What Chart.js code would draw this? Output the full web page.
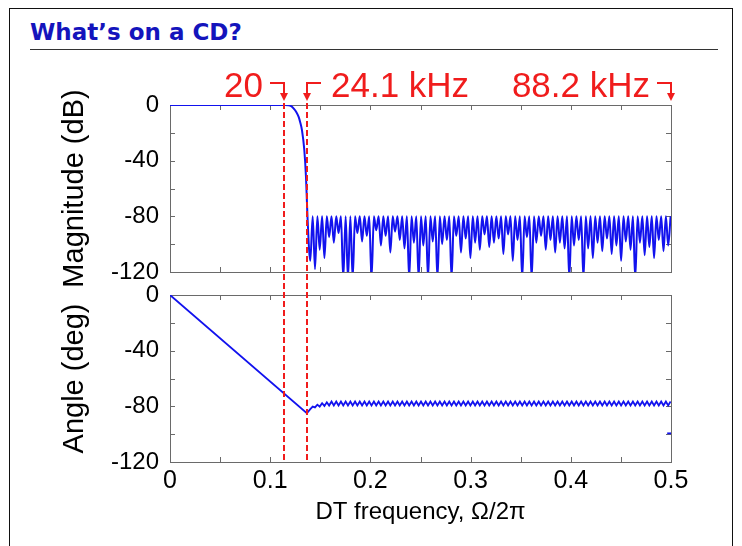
<!DOCTYPE html>
<html>
<head>
<meta charset="utf-8">
<script src="https://cdn.jsdelivr.net/npm/chart.js@4/dist/chart.umd.min.js"></script>
<style>
  html, body { margin: 0; padding: 0; background: #fff; }
  #page { position: relative; width: 742px; height: 546px; overflow: hidden; }
  #frame { position: absolute; left: 9px; top: 8px; width: 724px; height: 600px; border: 1.5px solid #111; box-sizing: border-box; }
  #title { position: absolute; left: 30px; top: 19px; font: bold 23px "DejaVu Sans", sans-serif; color: #1414bc; white-space: nowrap; }
  #rule { position: absolute; left: 30px; top: 49px; width: 688px; border-top: 1.5px solid #333; }
  canvas { position: absolute; left: 0; top: 0; }
</style>
</head>
<body>
<div id="page">
  <div id="frame"></div>
  <div id="title">What’s on a CD?</div>
  <div id="rule"></div>
  <canvas id="mag" width="742" height="546"></canvas>
  <canvas id="phase" width="742" height="546"></canvas>
</div>
<script>
// axes
const xTicks = [0, 0.05, 0.1, 0.15, 0.2, 0.25, 0.3, 0.35, 0.4, 0.45, 0.5];
const xTickLabels = ['0', '', '0.1', '', '0.2', '', '0.3', '', '0.4', '', '0.5'];
const yTicks = [0, -20, -40, -60, -80, -100, -120];
const yTickLabels = ['0', '', '-40', '', '-80', '', '-120'];

// band edges marked on the plot (20 kHz, 24.1 kHz, 88.2 kHz at fs = 176.4 kHz)
const markFreq = [0.1134, 0.1366, 0.5];
const markText = ['20', '24.1 kHz', '88.2 kHz'];
const markSide = ['left', 'right', 'left'];

// magnitude: passband + transition
const passFreq = [0, 0.1150, 0.1183, 0.1210, 0.1233, 0.1260, 0.1283, 0.1300, 0.1317, 0.1340, 0.1357, 0.1367, 0.1372];
const passDb = [0, 0, -0.1, -0.8, -2.4, -5, -8.4, -12.5, -18, -32, -51.5, -70.6, -80];

// magnitude: stopband lobes (nulls and equiripple peaks)
const nullFreq = [
  0.1400, 0.1447, 0.1494, 0.1541, 0.1588, 0.1635, 0.1682, 0.1729, 0.1776, 0.1823,
  0.1870, 0.1917, 0.1964, 0.2011, 0.2058, 0.2105, 0.2152, 0.2199, 0.2246, 0.2293,
  0.2340, 0.2387, 0.2434, 0.2481, 0.2528, 0.2575, 0.2622, 0.2669, 0.2716, 0.2763,
  0.2810, 0.2857, 0.2904, 0.2951, 0.2998, 0.3045, 0.3092, 0.3139, 0.3186, 0.3233,
  0.3280, 0.3327, 0.3374, 0.3421, 0.3468, 0.3515, 0.3562, 0.3609, 0.3656, 0.3703,
  0.3750, 0.3797, 0.3844, 0.3891, 0.3938, 0.3985, 0.4032, 0.4079, 0.4126, 0.4173,
  0.4220, 0.4267, 0.4314, 0.4361, 0.4408, 0.4455, 0.4502, 0.4549, 0.4596, 0.4643,
  0.4690, 0.4737, 0.4784, 0.4831, 0.4878, 0.4925, 0.4972
];
const nullDb = [
  -112, -118, -104, -110, -95, -99, -92, -125, -125, -125,
  -92, -98, -94, -125, -90, -101, -94, -106, -91, -97,
  -103, -125, -99, -125, -101, -125, -98, -125, -100, -97,
  -125, -94, -106, -96, -110, -99, -104, -93, -102, -99,
  -96, -107, -93, -112, -97, -125, -95, -125, -99, -94,
  -104, -97, -106, -99, -103, -125, -101, -97, -125, -103,
  -110, -99, -105, -96, -107, -101, -112, -98, -104, -125,
  -99, -108, -102, -110, -97, -105, -101
];
const peakFreq = [
  0.1424, 0.1471, 0.1518, 0.1565, 0.1612, 0.1659, 0.1706, 0.1753, 0.1800, 0.1847,
  0.1894, 0.1941, 0.1988, 0.2035, 0.2082, 0.2129, 0.2176, 0.2223, 0.2270, 0.2317,
  0.2364, 0.2411, 0.2458, 0.2505, 0.2552, 0.2599, 0.2646, 0.2693, 0.2740, 0.2787,
  0.2834, 0.2881, 0.2928, 0.2975, 0.3022, 0.3069, 0.3116, 0.3163, 0.3210, 0.3257,
  0.3304, 0.3351, 0.3398, 0.3445, 0.3492, 0.3539, 0.3586, 0.3633, 0.3680, 0.3727,
  0.3774, 0.3821, 0.3868, 0.3915, 0.3962, 0.4009, 0.4056, 0.4103, 0.4150, 0.4197,
  0.4244, 0.4291, 0.4338, 0.4385, 0.4432, 0.4479, 0.4526, 0.4573, 0.4620, 0.4667,
  0.4714, 0.4761, 0.4808, 0.4855, 0.4902, 0.4949, 0.4996
];
const peakDb = -80;

// phase
const phaseRampFreq = [0, 0.1366];
const phaseRampDeg = [0, -85];
const phaseSettleNull = [-82, -80.8, -80.2, -79.7];
const phaseSettlePeak = [-80.2, -78.8, -77.8, -77.1];
const phaseLow = -79.4;  // at the stopband nulls
const phaseHigh = -76.5; // at the stopband peaks
const phaseTailFreq = [0.4962, 0.5];
const phaseTailDeg = [-99.4, -99.4];

const BLUE = '#1212ee';
const RED = '#f01c1c';
Chart.defaults.font.family = '"Liberation Sans", Arial, sans-serif';
Chart.defaults.color = '#000';

// build series
let magData = passFreq.map((f, i) => ({ x: f, y: passDb[i] }));
nullFreq.forEach((f, k) => {
    magData.push({ x: f, y: nullDb[k] });
    magData.push({ x: peakFreq[k], y: peakDb });
});

let phaseData = phaseRampFreq.map((f, i) => ({ x: f, y: phaseRampDeg[i] }));
nullFreq.forEach((f, k) => {
    phaseData.push({ x: f, y: k < phaseSettleNull.length ? phaseSettleNull[k] : phaseLow });
    phaseData.push({ x: peakFreq[k], y: k < phaseSettlePeak.length ? phaseSettlePeak[k] : phaseHigh });
});
let tailData = phaseTailFreq.map((f, i) => ({ x: f, y: phaseTailDeg[i] }));

// box + inward ticks
const plotBox = {
    id: 'plotBox',
    beforeDatasetsDraw(chart) {
        const { ctx, chartArea: a, scales: { x, y } } = chart;
        ctx.save();
        ctx.strokeStyle = '#6a6a6a';
        ctx.lineWidth = 1;
        ctx.beginPath();
        xTicks.forEach(v => {
            const px = Math.round(x.getPixelForValue(v)) + 0.5;
            ctx.moveTo(px, a.top); ctx.lineTo(px, a.top + 5);
            ctx.moveTo(px, a.bottom); ctx.lineTo(px, a.bottom - 5);
        });
        yTicks.forEach(v => {
            const py = Math.round(y.getPixelForValue(v)) + 0.5;
            ctx.moveTo(a.left, py); ctx.lineTo(a.left + 5, py);
            ctx.moveTo(a.right, py); ctx.lineTo(a.right - 5, py);
        });
        ctx.stroke();
        ctx.strokeRect(Math.round(a.left) + 0.5, Math.round(a.top) + 0.5,
            Math.round(a.right - a.left), Math.round(a.bottom - a.top));
        ctx.restore();
    }
};

function yScale(title) {
    return {
        min: -120, max: 0,
        afterBuildTicks: s => { s.ticks = yTicks.map(v => ({ value: v })); },
        afterFit: s => { s.width = 170; },
        grid: { display: false, drawTicks: false },
        border: { display: false },
        ticks: { autoSkip: false, padding: 11, font: { size: 24 }, callback: v => yTickLabels[yTicks.indexOf(v)] },
        title: { display: true, text: title, font: { size: 29 }, padding: { top: 58, bottom: 0 } }
    };
}

const magChart = new Chart(document.getElementById('mag'), {
    type: 'line',
    data: {
        datasets: [{
            data: magData, borderColor: BLUE, borderWidth: 2, pointRadius: 0,
            cubicInterpolationMode: 'monotone', fill: false
        }]
    },
    options: {
        responsive: false, animation: false, events: [],
        layout: { padding: { top: 105, bottom: 274, left: 0, right: 71 } },
        plugins: { legend: { display: false }, tooltip: { enabled: false } },
        scales: {
            x: { type: 'linear', min: 0, max: 0.5, display: false },
            y: yScale('Magnitude (dB)')
        }
    },
    plugins: [plotBox]
});

// dashed band edges and labelled arrows, drawn over both plots
const bandMarks = {
    id: 'bandMarks',
    afterDraw(chart) {
        const { ctx, chartArea: a, scales: { x } } = chart;
        const top = magChart.chartArea.top;
        ctx.save();
        ctx.strokeStyle = RED;
        ctx.fillStyle = RED;
        ctx.lineWidth = 2;
        ctx.setLineDash([6, 3]);
        markFreq.slice(0, 2).forEach(f => {
            const px = Math.round(x.getPixelForValue(f));
            ctx.beginPath(); ctx.moveTo(px, top - 2); ctx.lineTo(px, a.bottom); ctx.stroke();
        });
        ctx.setLineDash([]);
        ctx.font = '35px "Liberation Sans", Arial, sans-serif';
        ctx.textBaseline = 'alphabetic';
        const barY = top - 22, tipY = top - 4, bar = 14;
        markFreq.forEach((f, i) => {
            const px = Math.round(x.getPixelForValue(f));
            const dir = markSide[i] === 'left' ? -1 : 1;
            ctx.beginPath();
            ctx.moveTo(px + dir * bar, barY); ctx.lineTo(px, barY); ctx.lineTo(px, tipY - 6);
            ctx.stroke();
            ctx.beginPath();
            ctx.moveTo(px - 4, tipY - 8); ctx.lineTo(px + 4, tipY - 8); ctx.lineTo(px, tipY);
            ctx.closePath(); ctx.fill();
            ctx.textAlign = dir < 0 ? 'right' : 'left';
            ctx.fillText(markText[i], px + dir * (bar + (dir < 0 ? 7 : 10)), top - 8);
        });
        ctx.restore();
    }
};

const phaseChart = new Chart(document.getElementById('phase'), {
    type: 'line',
    data: {
        datasets: [
            { data: phaseData, borderColor: BLUE, borderWidth: 1.8, pointRadius: 0, tension: 0, fill: false },
            { data: tailData, borderColor: BLUE, borderWidth: 1.8, pointRadius: 0, tension: 0, fill: false }
        ]
    },
    options: {
        responsive: false, animation: false, events: [],
        layout: { padding: { top: 295, bottom: 0, left: 0, right: 71 } },
        plugins: { legend: { display: false }, tooltip: { enabled: false } },
        scales: {
            x: {
                type: 'linear', min: 0, max: 0.5,
                afterBuildTicks: s => { s.ticks = xTicks.map(v => ({ value: v })); },
                afterFit: s => { s.height = 84; },
                grid: { display: false, drawTicks: false },
                border: { display: false },
                ticks: { autoSkip: false, maxRotation: 0, padding: 4, font: { size: 25 }, callback: v => xTickLabels[xTicks.indexOf(v)] },
                title: { display: true, text: 'DT frequency, Ω/2π', font: { size: 24 }, padding: { top: 0, bottom: 19 } }
            },
            y: yScale('Angle (deg)')
        }
    },
    plugins: [plotBox, bandMarks]
});
</script>
</body>
</html>
